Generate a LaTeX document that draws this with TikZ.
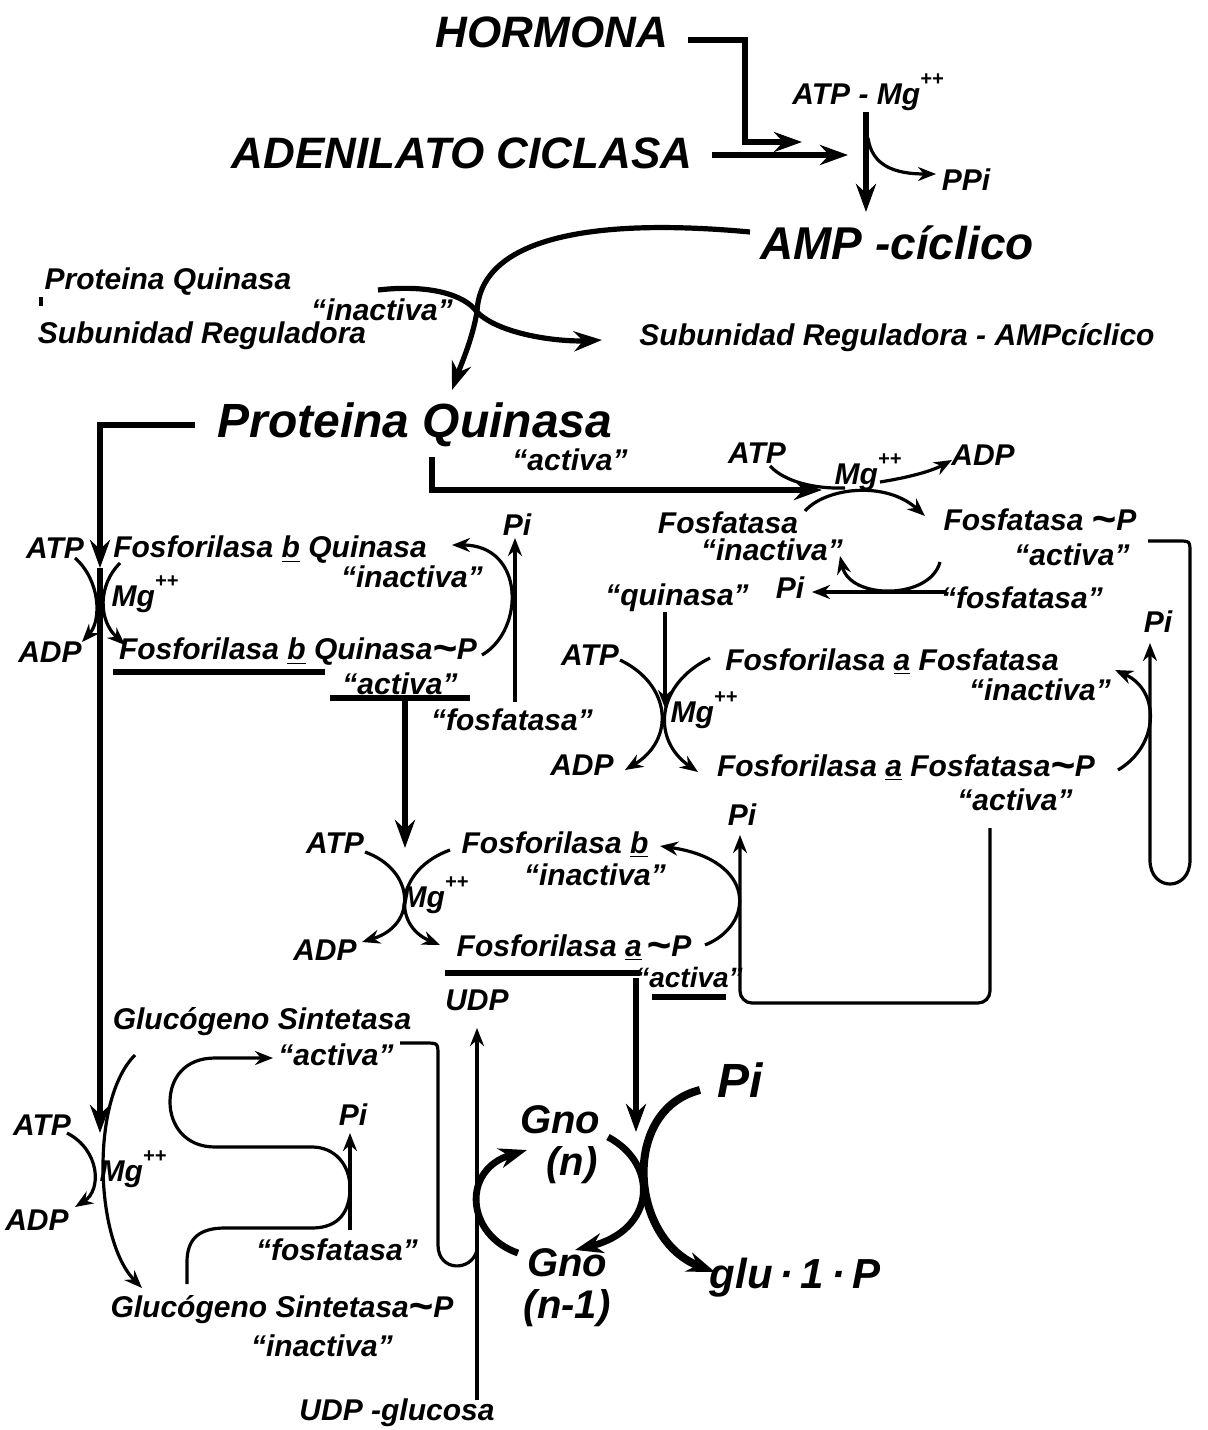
\documentclass[tikz,border=0pt]{standalone}
\usepackage{fontspec}
\setmainfont{Liberation Sans}
\usetikzlibrary{arrows.meta}

\newcommand{\mgion}{Mg\raisebox{0.62em}{\fontsize{10}{10}\selectfont++}}
\newcommand{\pact}{``activa''}
\newcommand{\pinact}{``inactiva''}
\newcommand{\fosfo}{Fosforilasa}
\newcommand{\enl}{\raisebox{-0.08em}{\fontsize{21}{21}\selectfont\textasciitilde}}

\tikzset{
  big/.style={font=\fontsize{22}{24}\selectfont\bfseries\itshape, inner sep=1pt},
  mid/.style={font=\fontsize{20}{21}\selectfont\bfseries\itshape, inner sep=1pt, align=center},
  lbl/.style={font=\fontsize{15}{16}\selectfont\bfseries\itshape, inner sep=1pt},
  lthick/.style={line width=2.6pt},
  lmed/.style={line width=1.6pt},
  lgno/.style={line width=3.4pt},
  tipbig/.style={-{Stealth[length=14pt,width=10pt]}},
  tipmed/.style={-{Stealth[length=9pt,width=7pt]}},
}

\begin{document}
\begin{tikzpicture}[x=0.5pt,y=-0.5pt]
    \useasboundingbox (0,0) rectangle (1207,1430);

    % \node[style] (name) at (x,y) {text};  (x,y) in pixels, y downwards
    \node[big] (hormona) at (552,32) {HORMONA};
    \node[big] (adenil) at (462,153) {ADENILATO CICLASA};
    \node[lbl] (atpmg) at (868,92) {ATP - \mgion};
    \node[lbl] (ppi) at (966,180) {PPi};
    \node[big,font=\fontsize{23}{25}\selectfont\bfseries\itshape] (amp) at (897,243) {AMP -cíclico};

    \node[lbl] (pqin) at (168,282) {Proteina Quinasa};
    \node[lbl] (pqinq) at (382,310) {\pinact};
    \node[lbl] (subreg) at (202,336) {Subunidad Reguladora};
    \node[lbl] (subamp) at (897,338) {Subunidad Reguladora - AMPcíclico};
    \node[big,font=\fontsize{24}{26}\selectfont\bfseries\itshape] (pq) at (415,425) {Proteina Quinasa};
    \node[lbl] (pqact) at (570,460) {\pact};

    % fosforilasa b quinasa
    \node[lbl] (atpa) at (55,548) {ATP};
    \node[lbl] (fbq) at (270,550) {\fosfo\ \underline{b} Quinasa};
    \node[lbl] (fbqin) at (412,577) {\pinact};
    \node[lbl] (mga) at (145,594) {\mgion};
    \node[lbl] (adpa) at (50,652) {ADP};
    \node[lbl] (fbqp) at (298,652) {\fosfo\ \underline{b} Quinasa\enl P};
    \node[lbl] (fbqpact) at (400,684) {\pact};
    \node[lbl] (pia) at (517,525) {Pi};
    \node[lbl] (fosfa) at (512,720) {``fosfatasa''};

    % fosfatasa
    \node[lbl] (atpb) at (757,453) {ATP};
    \node[lbl] (mgb) at (868,472) {\mgion};
    \node[lbl] (adpb) at (983,455) {ADP};
    \node[lbl] (ftin) at (728,523) {Fosfatasa};
    \node[lbl] (ftinq) at (772,550) {\pinact};
    \node[lbl] (ftp) at (1040,521) {Fosfatasa \enl P};
    \node[lbl] (ftpq) at (1072,555) {\pact};
    \node[lbl] (pib) at (790,588) {Pi};
    \node[lbl] (fosfb) at (1022,598) {``fosfatasa''};
    \node[lbl] (quin) at (677,598) {``quinasa''};

    % fosforilasa a fosfatasa
    \node[lbl] (atpc) at (590,655) {ATP};
    \node[lbl] (faf) at (892,662) {\fosfo\ \underline{a} Fosfatasa};
    \node[lbl] (fafin) at (1040,690) {\pinact};
    \node[lbl] (mgc) at (704,710) {\mgion};
    \node[lbl] (adpc) at (582,765) {ADP};
    \node[lbl] (fafp) at (906,768) {\fosfo\ \underline{a} Fosfatasa\enl P};
    \node[lbl] (fafpq) at (1015,800) {\pact};
    \node[lbl] (pic) at (1158,622) {Pi};

    % fosforilasa
    \node[lbl] (atpd) at (335,843) {ATP};
    \node[lbl] (fb) at (555,845) {\fosfo\ \underline{b}};
    \node[lbl] (fbin) at (595,875) {\pinact};
    \node[lbl] (mgd) at (435,895) {\mgion};
    \node[lbl] (adpd) at (325,950) {ADP};
    \node[lbl] (fap) at (574,948) {\fosfo\ \underline{a}\,\enl P};
    \node[lbl,font=\fontsize{14}{15}\selectfont\bfseries\itshape] (fapq) at (689,977) {\pact};
    \node[lbl] (pid) at (742,815) {Pi};
    \node[lbl] (udp) at (477,1000) {UDP};

    % glucogeno sintetasa
    \node[lbl] (gs) at (262,1022) {Glucógeno Sintetasa};
    \node[lbl] (gsq) at (336,1055) {\pact};
    \node[lbl] (atpe) at (42,1125) {ATP};
    \node[lbl] (mge) at (133,1169) {\mgion};
    \node[lbl] (adpe) at (37,1220) {ADP};
    \node[lbl] (pie) at (353,1115) {Pi};
    \node[lbl] (fosfe) at (337,1250) {``fosfatasa''};
    \node[lbl] (gsp) at (282,1310) {Glucógeno Sintetasa\enl P};
    \node[lbl] (gspq) at (322,1346) {\pinact};
    \node[lbl] (udpg) at (397,1413) {UDP -glucosa};

    \node[mid] (gnoa) at (560,1145) {Gno\\\hspace*{0.6em}(n)};
    \node[mid] (gnob) at (567,1288) {Gno\\(n-1)};
    \node[big,font=\fontsize{24}{26}\selectfont\bfseries\itshape] (pif) at (740,1080) {Pi};
    \node[mid,font=\fontsize{21}{23}\selectfont\bfseries\itshape] (glu) at (795,1278) {glu\,·\,1\,·\,P};

    % end points of the connectors
    \path (688,40) coordinate (h1) (802,142) coordinate (h2)
          (712,155) coordinate (c1) (848,155) coordinate (c2)
          (866,112) coordinate (m1) (866,212) coordinate (m2)
          (868,138) coordinate (p1) (936,174) coordinate (p2);
    \path (750,232) coordinate (a1) (477,312) coordinate (sp)
          (378,290) coordinate (a2) (452,390) coordinate (a3)
          (602,340) coordinate (a4) (41,297) coordinate (t1) (41,306) coordinate (t2);
    \path (195,425) coordinate (k1) (100,568) coordinate (k2)
          (100,1133) coordinate (k3) (432,457) coordinate (k4) (822,490) coordinate (k5);
    \path (75,558) coordinate (d1) (82,642) coordinate (d2)
          (120,563) coordinate (d3) (125,645) coordinate (d4)
          (482,655) coordinate (d5) (452,545) coordinate (d6)
          (515,702) coordinate (d7) (515,538) coordinate (d8)
          (113,672) coordinate (u1) (325,672) coordinate (u2)
          (330,698) coordinate (u3) (470,698) coordinate (u4)
          (405,698) coordinate (d9) (405,848) coordinate (d10);
    \path (770,466) coordinate (e1) (845,488) coordinate (e2)
          (880,482) coordinate (e3) (952,460) coordinate (e4)
          (805,511) coordinate (e5) (925,516) coordinate (e6)
          (940,562) coordinate (e7) (840,556) coordinate (e8)
          (945,592) coordinate (e9) (812,592) coordinate (e10)
          (1148,541) coordinate (e11) (1150,643) coordinate (e12)
          (665,612) coordinate (q1) (665,708) coordinate (q2);
    \path (620,660) coordinate (f1) (625,770) coordinate (f2)
          (710,658) coordinate (f3) (698,772) coordinate (f4)
          (1118,770) coordinate (f5) (1115,670) coordinate (f6)
          (990,828) coordinate (f7) (740,835) coordinate (f8);
    \path (365,852) coordinate (g1) (362,942) coordinate (g2)
          (450,850) coordinate (g3) (440,945) coordinate (g4)
          (705,945) coordinate (g5) (660,846) coordinate (g6)
          (445,973) coordinate (u5) (640,973) coordinate (u6)
          (652,997) coordinate (u7) (726,997) coordinate (u8)
          (636,978) coordinate (g7) (636,1132) coordinate (g8)
          (477,1400) coordinate (g9) (477,1028) coordinate (g10);
    \path (67,1133) coordinate (s1) (75,1207) coordinate (s2)
          (135,1055) coordinate (s3) (142,1288) coordinate (s4)
          (187,1284) coordinate (s5) (273,1058) coordinate (s6)
          (350,1230) coordinate (s7) (350,1133) coordinate (s8)
          (400,1043) coordinate (s9) (477,1250) coordinate (s10);
    \path (518,1253) coordinate (n1) (527,1150) coordinate (n2)
          (608,1137) coordinate (n3) (575,1250) coordinate (n4)
          (700,1090) coordinate (n5) (715,1272) coordinate (n6);

    % adenilato ciclasa
    \draw[lthick,tipbig] (h1) -| (745,142) -- (h2);
    \draw[lthick,tipbig] (c1) -- (c2);
    \draw[lthick,tipbig] (m1) -- (m2);
    \draw[lmed,tipmed] (p1) .. controls (872,166) and (895,174) .. (p2);

    \draw[lthick] (a1) .. controls (600,218) and (480,235) .. (sp);
    \draw[lthick] (a2) .. controls (430,284) and (465,295) .. (sp);
    \draw[lthick,tipbig] (sp) .. controls (472,340) and (462,362) .. (a3);
    \draw[lthick,tipbig] (sp) .. controls (500,335) and (560,342) .. (a4);
    \draw[lmed] (t1) -- (t2);

    \draw[lthick,tipbig] (k1) -| (k2);
    \draw[lthick,tipbig] (k2) -- (k3);
    \draw[lthick,tipbig] (k4) |- (k5);

    % fosforilasa b quinasa
    \draw[lmed,tipmed] (d1) .. controls (100,580) and (102,620) .. (d2);
    \draw[lmed,tipmed] (d3) .. controls (98,585) and (98,620) .. (d4);
    \draw[lmed,tipmed] (d5) .. controls (525,630) and (525,545) .. (d6);
    \draw[lmed,tipmed] (d7) -- (d8);
    \draw[lthick] (u1) -- (u2);
    \draw[lthick] (u3) -- (u4);
    \draw[lthick,tipbig] (d9) -- (d10);

    % fosfatasa
    \draw[lmed] (e1) .. controls (785,482) and (815,489) .. (e2);
    \draw[lmed,tipmed] (e3) .. controls (905,478) and (930,472) .. (e4);
    \draw[lmed,tipmed] (e5) .. controls (825,488) and (885,480) .. (e6);
    \draw[lmed,tipmed] (e7) .. controls (930,600) and (850,600) .. (e8);
    \draw[lmed,tipmed] (e9) -- (e10);
    \draw[lmed,tipmed] (e11) -- (1178,541) .. controls (1190,541) .. (1190,553)
        -- (1190,860) .. controls (1190,892) and (1150,892) .. (1150,860) -- (e12);
    \draw[lmed,tipmed] (q1) -- (q2);

    % fosforilasa a fosfatasa
    \draw[lmed,tipmed] (f1) .. controls (672,685) and (675,740) .. (f2);
    \draw[lmed,tipmed] (f3) .. controls (655,685) and (652,740) .. (f4);
    \draw[lmed,tipmed] (f5) .. controls (1160,745) and (1160,690) .. (f6);
    \draw[lmed,tipmed,rounded corners=6pt] (f7) |- (740,1003) -- (f8);

    % fosforilasa
    \draw[lmed,tipmed] (g1) .. controls (415,870) and (418,925) .. (g2);
    \draw[lmed,tipmed] (g3) .. controls (395,870) and (392,925) .. (g4);
    \draw[lmed,tipmed] (g5) .. controls (755,925) and (757,860) .. (g6);
    \draw[lthick] (u5) -- (u6);
    \draw[lthick] (u7) -- (u8);
    \draw[lthick,tipbig] (g7) -- (g8);
    \draw[lmed,tipmed] (g9) -- (g10);

    % glucogeno sintetasa
    \draw[lmed,tipmed] (s1) .. controls (100,1150) and (102,1190) .. (s2);
    \draw[lmed,tipmed] (s3) .. controls (90,1100) and (95,1240) .. (s4);
    \draw[lmed,tipmed] (s5) -- (187,1262) .. controls (187,1238) and (200,1228) .. (225,1228)
        -- (312,1228) .. controls (340,1228) and (350,1210) .. (350,1188)
        .. controls (350,1165) and (335,1147) .. (312,1147) -- (215,1147)
        .. controls (185,1147) and (170,1125) .. (170,1102)
        .. controls (170,1078) and (185,1058) .. (215,1058) -- (s6);
    \draw[lmed,tipmed] (s7) -- (s8);
    \draw[lmed] (s9) -- (425,1043) .. controls (438,1043) .. (438,1056)
        -- (438,1245) .. controls (438,1272) and (472,1272) .. (s10);

    % glucogeno
    \draw[lgno,tipbig] (n1) .. controls (466,1235) and (461,1170) .. (n2);
    \draw[lgno,tipbig] (n3) .. controls (660,1165) and (655,1230) .. (n4);
    \draw[line width=4pt,tipbig] (n5) .. controls (620,1110) and (630,1240) .. (n6);
\end{tikzpicture}
\end{document}
